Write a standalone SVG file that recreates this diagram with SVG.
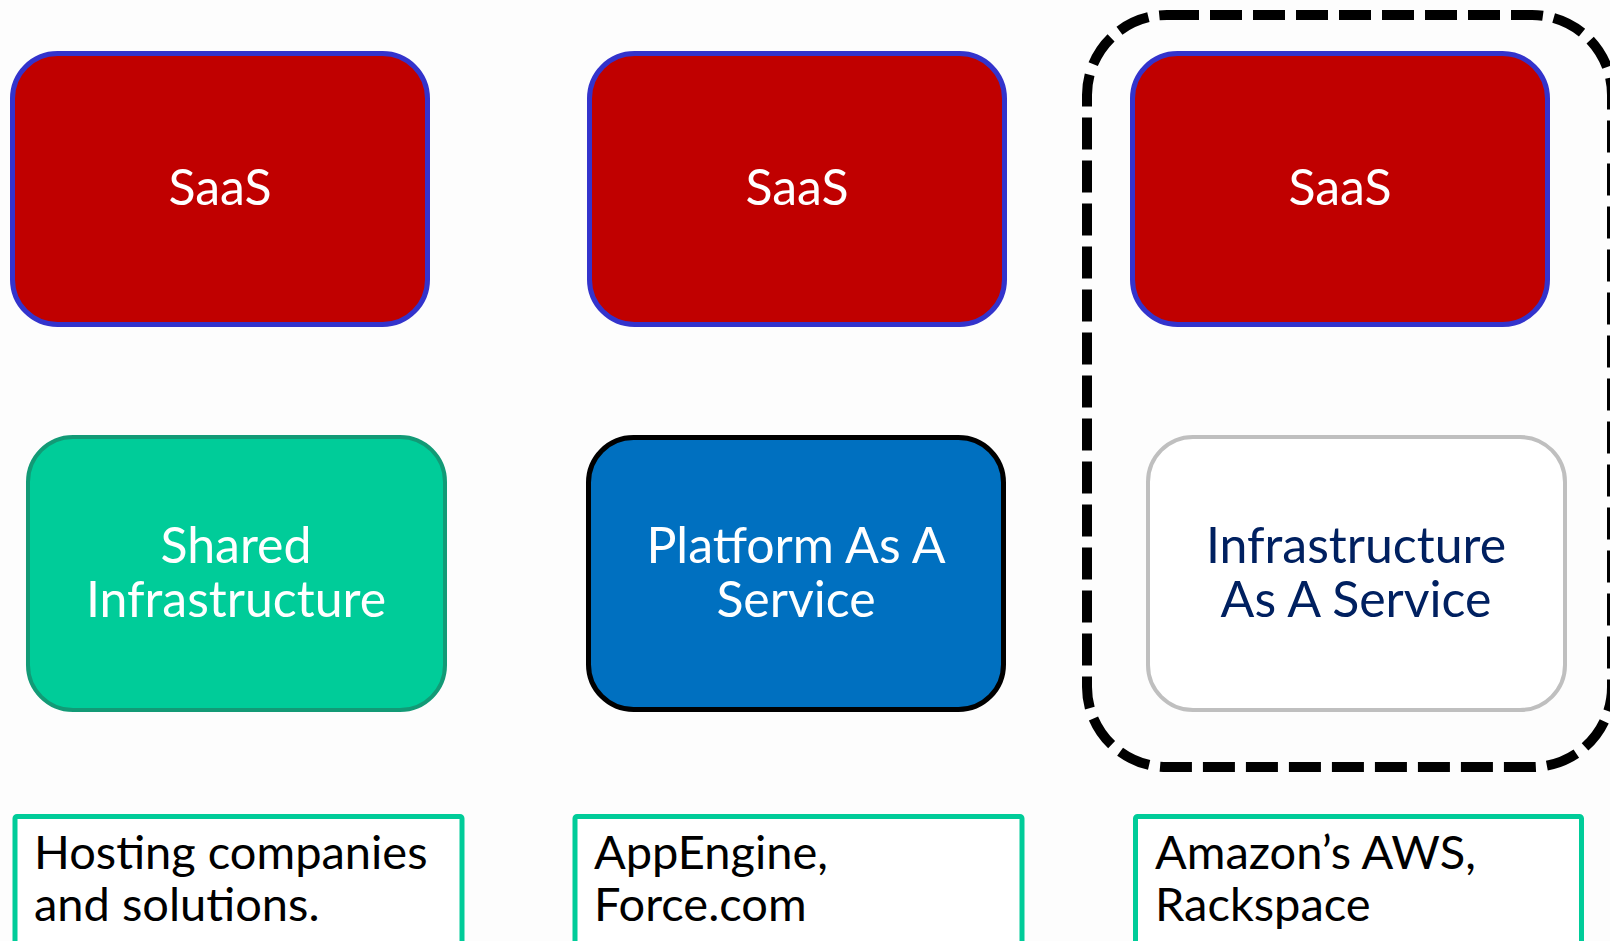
<svg xmlns="http://www.w3.org/2000/svg" width="1610" height="941" viewBox="0 0 1610 941">
<style>
.t{font-family:Lato,"Liberation Sans",Arial,sans-serif;font-size:50px;text-anchor:middle;fill:#FFFFFF}
.lbl{font-family:Lato,"Liberation Sans",Arial,sans-serif;font-size:47px;fill:#000000}
.saas{fill:#C00000;stroke:#3333CC;stroke-width:5}
.note{fill:#FFFFFF;stroke:#00CC99;stroke-width:5}
</style>
<rect x="0" y="0" width="1610" height="941" fill="#FDFDFD"/>
<g id="saas1"><rect class="saas" x="12.5" y="53.5" width="415" height="271" rx="45"/><text class="t" x="220" y="205">SaaS</text></g>
<g id="saas2"><rect class="saas" x="589.5" y="53.5" width="415" height="271" rx="45"/><text class="t" x="797" y="205">SaaS</text></g>
<g id="saas3"><rect class="saas" x="1132.5" y="53.5" width="415" height="271" rx="45"/><text class="t" x="1340" y="205">SaaS</text></g>
<g id="shared"><rect x="28" y="437" width="417" height="273" rx="45" fill="#00CC99" stroke="#129A76" stroke-width="4"/><text class="t" x="236" y="563">Shared</text><text class="t" x="236" y="617">Infrastructure</text></g>
<g id="paas"><rect x="588.5" y="437.5" width="415" height="272" rx="45" fill="#0070C0" stroke="#000000" stroke-width="5"/><text class="t" x="796" y="563">Platform As A</text><text class="t" x="796" y="617">Service</text></g>
<g id="iaas"><rect x="1148" y="437" width="417" height="273" rx="45" fill="#FFFFFF" stroke="#BFBFBF" stroke-width="4"/><text class="t" x="1356" y="563" style="fill:#002060">Infrastructure</text><text class="t" x="1356" y="617" style="fill:#002060">As A Service</text></g>
<g id="group"><rect x="1087" y="15" width="525" height="752" rx="80" fill="none" stroke="#000000" stroke-width="10" stroke-dasharray="32 11"/></g>
<g id="note1"><rect class="note" x="15" y="816.5" width="447" height="140" rx="2"/><text class="lbl" x="34" y="869">Hosting companies</text><text class="lbl" x="34" y="921">and solutions.</text></g>
<g id="note2"><rect class="note" x="575" y="816.5" width="447" height="140" rx="2"/><text class="lbl" x="594" y="869">AppEngine,</text><text class="lbl" x="594" y="921">Force.com</text></g>
<g id="note3"><rect class="note" x="1135.5" y="816.5" width="446" height="140" rx="2"/><text class="lbl" x="1155" y="869">Amazon’s AWS,</text><text class="lbl" x="1155" y="921">Rackspace</text></g>
<g id="connectors"></g>
</svg>
